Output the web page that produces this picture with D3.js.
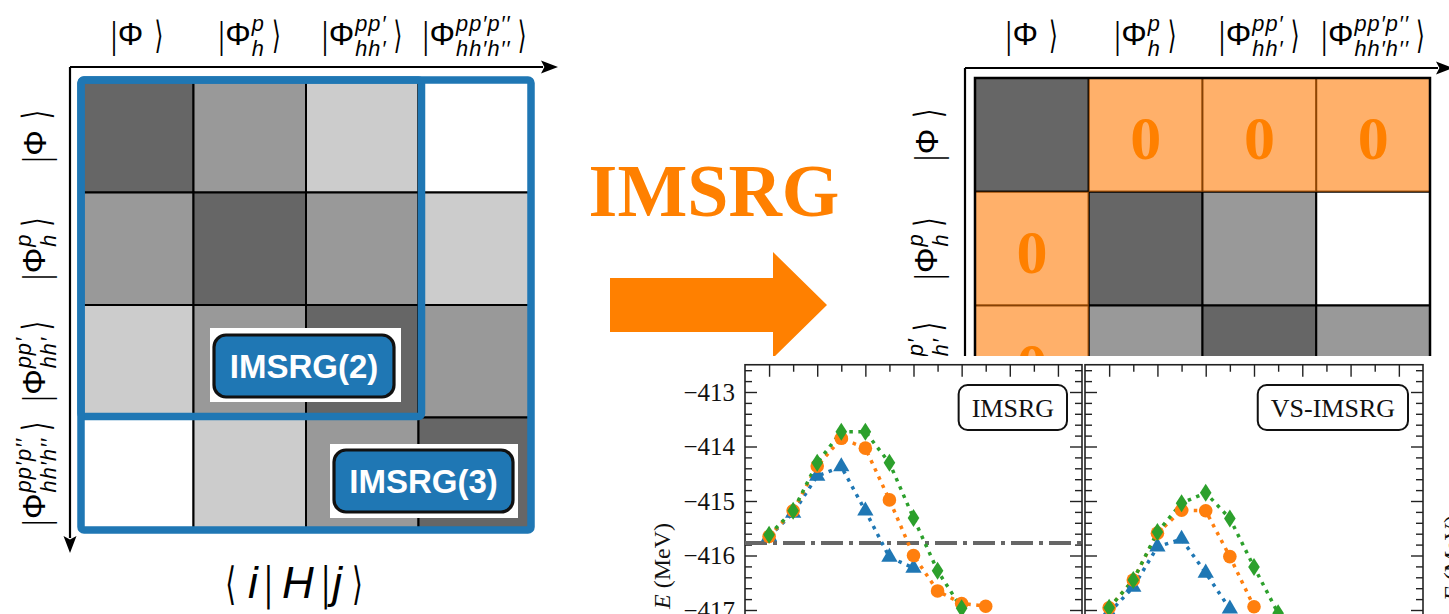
<!DOCTYPE html>
<html>
<head>
<meta charset="utf-8">
<script src="https://cdn.jsdelivr.net/npm/d3@7"></script>
<style>
  body { margin: 0; background: #fff; }
  svg { display: block; }
</style>
</head>
<body>
<svg id="fig" width="1449" height="614"></svg>
<script>
// ---------------- data ----------------
// Many-body basis blocks: |Φ>, 1p1h, 2p2h, 3p3h
const blockSup = ["", "p", "pp′", "pp′p′′"];
const blockSub = ["", "h", "hh′", "hh′h′′"];

// Shade index of each Hamiltonian block (0 = strongest coupling)
const shadeBefore = [
  [0, 1, 2, 3],
  [1, 0, 1, 2],
  [2, 1, 0, 1],
  [3, 2, 1, 0]
];
// After the IMSRG flow: -1 marks a decoupled (zero) block
const shadeAfter = [
  [0, -1, -1, -1],
  [-1, 0, 1, 3],
  [-1, 1, 0, 1],
  [-1, 3, 1, 0]
];
const shadeColors = ["#666666", "#999999", "#cccccc", "#ffffff"];

// Ground-state energies (MeV) vs. oscillator frequency
const hw = [8, 10, 12, 14, 16, 18, 20, 22, 24, 26];
const imsrgTri     = [-415.65, -415.22, -414.54, -414.37, -415.18, -416.03, -416.23];
const imsrgCircle  = [-415.65, -415.18, -414.36, -413.85, -414.03, -414.98, -416.00, -416.65, -416.88, -416.93];
const imsrgDiamond = [-415.62, -415.18, -414.30, -413.73, -413.73, -414.30, -415.31, -416.28, -416.97];
const vsTri        = [-417.05, -416.58, -415.84, -415.70, -416.32, -416.98];
const vsCircle     = [-416.96, -416.45, -415.59, -415.17, -415.18, -416.02, -416.94];
const vsDiamond    = [-416.96, -416.45, -415.57, -415.04, -414.85, -415.32, -416.21, -417.06];
const refEnergy = -415.77;
const energyTicks = [-413, -414, -415, -416, -417];
const hwMajorTicks = [8, 12, 16, 20, 24, 28, 32];
const hwMinorTicks = [10, 14, 18, 22, 26, 30];

// ---------------- setup ----------------
const svg = d3.select("#fig");
const SANS = "'Liberation Sans', Arial, Helvetica, sans-serif";
const SERIF = "'Liberation Serif', 'Times New Roman', serif";
const BLUE = "#1f77b4", ORANGE = "#ff7f0e", GREEN = "#2ca02c";
const ARROW_ORANGE = "#ff8000";

svg.append("rect").attr("width", 1449).attr("height", 614).attr("fill", "#fff");

function axisArrow(g, x1, y1, x2, y2) {
  const len = 17, hw2 = 6.5;
  const a = Math.atan2(y2 - y1, x2 - x1);
  const bx = x2 - len * Math.cos(a), by = y2 - len * Math.sin(a);
  g.append("line").attr("x1", x1).attr("y1", y1).attr("x2", bx + 2 * Math.cos(a)).attr("y2", by + 2 * Math.sin(a))
    .attr("stroke", "#000").attr("stroke-width", 2.2);
  const px = -Math.sin(a) * hw2, py = Math.cos(a) * hw2;
  g.append("path")
    .attr("d", `M${x2},${y2}L${bx + px},${by + py}L${bx + len * 0.2 * Math.cos(a)},${by + len * 0.2 * Math.sin(a)}L${bx - px},${by - py}Z`)
    .attr("fill", "#000");
}

// Ket label |Φ^{sup}_{sub}> built with baseline at y = 0, starting at x = 0
function ket(parent, sup, sub, fs) {
  const g = parent.append("g");
  const delimFs = fs * 0.78;
  const bar = g.append("text")
    .attr("font-family", SANS).attr("font-size", delimFs)
    .attr("transform", `translate(0,${fs * 0.1}) scale(0.85,1.5)`)
    .text("|");
  const bw = bar.node().getComputedTextLength() * 0.85;
  const phi = g.append("text")
    .attr("x", bw + 1).attr("font-family", SANS).attr("font-size", fs)
    .text("Φ");
  let x = bw + 1 + phi.node().getComputedTextLength();
  let sw = 3;
  const sfs = fs * 0.68;
  if (sup) {
    const t = g.append("text").attr("x", x + 1).attr("y", -fs * 0.45)
      .attr("font-family", SANS).attr("font-style", "italic").attr("font-size", sfs)
      .attr("letter-spacing", 1).text(sup);
    sw = Math.max(sw, t.node().getComputedTextLength());
  }
  if (sub) {
    const t = g.append("text").attr("x", x + 1).attr("y", fs * 0.33)
      .attr("font-family", SANS).attr("font-style", "italic").attr("font-size", sfs)
      .attr("letter-spacing", 1).text(sub);
    sw = Math.max(sw, t.node().getComputedTextLength());
  }
  x += sw + 8;
  g.append("text")
    .attr("font-family", "'DejaVu Sans', sans-serif").attr("font-size", delimFs)
    .attr("transform", `translate(${x},${fs * 0.1}) scale(0.9,1.5)`)
    .text("⟩");
  return g;
}

function columnKet(parent, i, cx, baseY, fs) {
  const g = ket(parent, blockSup[i], blockSub[i], fs);
  const b = g.node().getBBox();
  g.attr("transform", `translate(${cx - b.x - b.width / 2},${baseY})`);
}

function rowKet(parent, i, cx, cy, fs) {
  const outer = parent.append("g").attr("transform", `translate(${cx},${cy}) rotate(-90)`);
  const g = ket(outer, blockSup[i], blockSub[i], fs);
  const b = g.node().getBBox();
  g.attr("transform", `translate(${-b.x - b.width / 2},${-b.y - b.height / 2})`);
}

const idx = d3.range(4);
const cellPairs = d3.cross(idx, idx); // [row, col]

// ---------------- left matrix: full Hamiltonian ----------------
const left = svg.append("g");
const lx = d3.scaleBand().domain(idx).range([81, 531]);
const ly = d3.scaleBand().domain(idx).range([80, 530]);

left.selectAll("rect.cell").data(cellPairs).join("rect")
  .attr("class", "cell")
  .attr("x", d => lx(d[1])).attr("y", d => ly(d[0]))
  .attr("width", lx.bandwidth()).attr("height", ly.bandwidth())
  .attr("fill", d => shadeColors[shadeBefore[d[0]][d[1]]])
  .attr("stroke", "#000").attr("stroke-width", 2);

// truncation frames
left.append("rect")
  .attr("x", lx(0)).attr("y", ly(0))
  .attr("width", lx(3) - lx(0) + 3).attr("height", ly(3) - ly(0) - 1)
  .attr("rx", 3).attr("fill", "none").attr("stroke", BLUE).attr("stroke-width", 7.5);
left.append("rect")
  .attr("x", lx(0)).attr("y", ly(0))
  .attr("width", lx.range()[1] - lx(0)).attr("height", ly.range()[1] - ly(0))
  .attr("rx", 3).attr("fill", "none").attr("stroke", BLUE).attr("stroke-width", 7.5);

function truncationBadge(g, wx, wy, ww, wh, bx, by, bwid, bh, label) {
  g.append("rect").attr("x", wx).attr("y", wy).attr("width", ww).attr("height", wh).attr("fill", "#fff");
  g.append("rect").attr("x", bx).attr("y", by).attr("width", bwid).attr("height", bh)
    .attr("rx", 12).attr("fill", BLUE).attr("stroke", "#111").attr("stroke-width", 3.2);
  g.append("text").attr("x", bx + bwid / 2).attr("y", by + bh / 2 + 12)
    .attr("text-anchor", "middle").attr("font-family", SANS).attr("font-weight", "bold")
    .attr("font-size", 33).attr("fill", "#fff").text(label);
}
truncationBadge(left, 210, 328, 191, 74, 214, 335, 180, 62, "IMSRG(2)");
truncationBadge(left, 330, 444, 188, 74, 334, 450, 179, 62, "IMSRG(3)");

axisArrow(left, 70, 67, 558, 67);
axisArrow(left, 70, 67, 70, 553);

idx.forEach(i => {
  columnKet(left, i, lx(i) + lx.bandwidth() / 2, 45, 32);
  rowKet(left, i, 36, ly(i) + ly.bandwidth() / 2, 32);
});

// <i|H|j> caption
(function () {
  const g = svg.append("g");
  const fs = 44;
  let x = 0;
  const pieces = [
    { t: "⟨", delim: true },
    { t: "i", gap: 12 },
    { t: "|", delim: true, gap: 6 },
    { t: "H", gap: 9 },
    { t: "|", delim: true, gap: 7 },
    { t: "j", gap: 2 },
    { t: "⟩", delim: true, gap: 10 }
  ];
  pieces.forEach(p => {
    x += p.gap || 0;
    let node;
    if (p.delim) {
      node = g.append("text")
        .attr("font-family", "'DejaVu Sans', sans-serif").attr("font-size", fs * 0.7)
        .attr("transform", `translate(${x},1) scale(0.9,1.45)`).text(p.t);
      x += node.node().getComputedTextLength() * 0.9;
    } else {
      node = g.append("text").attr("x", x).attr("font-family", SANS)
        .attr("font-style", "italic").attr("font-size", fs).text(p.t);
      x += node.node().getComputedTextLength();
    }
  });
  const b = g.node().getBBox();
  g.attr("transform", `translate(${294 - b.x - b.width / 2},${585 - b.y - b.height / 2})`);
})();

// ---------------- IMSRG arrow ----------------
svg.append("text").attr("x", 714).attr("y", 216).attr("text-anchor", "middle")
  .attr("font-family", SERIF).attr("font-weight", "bold").attr("font-size", 74)
  .attr("fill", ARROW_ORANGE).text("IMSRG");
svg.append("path")
  .attr("d", "M610,278L773,278L773,252L827,305L773,358L773,332L610,332Z")
  .attr("fill", ARROW_ORANGE);

// ---------------- right matrix: decoupled Hamiltonian ----------------
const right = svg.append("g");
const rx = d3.scaleBand().domain(idx).range([975, 1430]);
const ry = d3.scaleBand().domain(idx).range([78, 533]);

right.selectAll("rect.cell").data(cellPairs).join("rect")
  .attr("class", "cell")
  .attr("x", d => rx(d[1])).attr("y", d => ry(d[0]))
  .attr("width", rx.bandwidth()).attr("height", ry.bandwidth())
  .attr("fill", d => {
    const s = shadeAfter[d[0]][d[1]];
    return s < 0 ? "#fff" : shadeColors[s];
  })
  .attr("stroke", "#000").attr("stroke-width", 2);

const zeroCells = cellPairs.filter(d => shadeAfter[d[0]][d[1]] < 0);
right.selectAll("rect.zero").data(zeroCells).join("rect")
  .attr("class", "zero")
  .attr("x", d => rx(d[1])).attr("y", d => ry(d[0]))
  .attr("width", rx.bandwidth()).attr("height", ry.bandwidth())
  .attr("fill", ORANGE).attr("fill-opacity", 0.62);
right.selectAll("text.zero").data(zeroCells).join("text")
  .attr("class", "zero")
  .attr("x", d => rx(d[1]) + rx.bandwidth() / 2)
  .attr("y", d => ry(d[0]) + ry.bandwidth() / 2 + 24)
  .attr("text-anchor", "middle").attr("font-family", SERIF).attr("font-weight", "bold")
  .attr("font-size", 62).attr("fill", ARROW_ORANGE).text("0");

right.append("rect").attr("x", rx(0)).attr("y", ry(0))
  .attr("width", rx.range()[1] - rx(0)).attr("height", ry.range()[1] - ry(0))
  .attr("fill", "none").attr("stroke", "#000").attr("stroke-width", 2.5);

axisArrow(right, 965, 68, 1453, 68);
axisArrow(right, 965, 68, 965, 560);

idx.forEach(i => {
  columnKet(right, i, rx(i) + rx.bandwidth() / 2, 45, 32);
  rowKet(right, i, 928, ry(i) + ry.bandwidth() / 2, 32);
});

// ---------------- energy plots ----------------
const plot = svg.append("g");
plot.append("rect").attr("x", 645).attr("y", 356).attr("width", 804).attr("height", 258).attr("fill", "#fff");

const yE = d3.scaleLinear().domain([-418.5, -412.5]).range([691.75, 364.75]);
const minorE = d3.range(-418.4, -412.5, 0.2).map(v => +v.toFixed(1)).filter(v => Math.abs(v - Math.round(v)) > 0.05);

const panels = [
  { x0: 745, x1: 1082, label: "IMSRG", tri: imsrgTri, circ: imsrgCircle, dia: imsrgDiamond, ref: true, yLabels: true },
  { x0: 1085, x1: 1423, label: "VS-IMSRG", tri: vsTri, circ: vsCircle, dia: vsDiamond, ref: false, yLabels: false }
];

const triPath = d3.symbol(d3.symbolTriangle, 115)();
const circPath = d3.symbol(d3.symbolCircle, 145)();
const diaPath = "M0,-9L5.8,0L0,9L-5.8,0Z";

panels.forEach(p => {
  const xS = d3.scaleLinear().domain([6, 34]).range([p.x0, p.x1]);
  const g = plot.append("g");
  const yTop = yE.range()[1], yBot = yE.range()[0];

  const tickStyle = sel => {
    sel.select(".domain").remove();
    sel.selectAll(".tick line").attr("stroke", "#222").attr("stroke-width", 1.4);
  };

  // y ticks (inward) on both spines
  g.append("g").attr("transform", `translate(${p.x0},0)`)
    .call(d3.axisLeft(yE).tickValues(energyTicks).tickSize(-12).tickPadding(10)
      .tickFormat(p.yLabels ? d3.format("d") : ""))
    .call(tickStyle)
    .call(s => s.selectAll("text").attr("font-family", SERIF).attr("font-size", 25).attr("fill", "#111"));
  g.append("g").attr("transform", `translate(${p.x0},0)`)
    .call(d3.axisLeft(yE).tickValues(minorE).tickSize(-7).tickFormat(""))
    .call(tickStyle);
  g.append("g").attr("transform", `translate(${p.x1},0)`)
    .call(d3.axisRight(yE).tickValues(energyTicks).tickSize(-12).tickFormat(""))
    .call(tickStyle);
  g.append("g").attr("transform", `translate(${p.x1},0)`)
    .call(d3.axisRight(yE).tickValues(minorE).tickSize(-7).tickFormat(""))
    .call(tickStyle);
  // x ticks (inward) on top and bottom spines
  g.append("g").attr("transform", `translate(0,${yTop})`)
    .call(d3.axisTop(xS).tickValues(hwMajorTicks).tickSize(-12).tickFormat(""))
    .call(tickStyle);
  g.append("g").attr("transform", `translate(0,${yTop})`)
    .call(d3.axisTop(xS).tickValues(hwMinorTicks).tickSize(-7).tickFormat(""))
    .call(tickStyle);
  g.append("g").attr("transform", `translate(0,${yBot})`)
    .call(d3.axisBottom(xS).tickValues(hwMajorTicks).tickSize(-12).tickFormat(""))
    .call(tickStyle);

  g.append("rect").attr("x", p.x0).attr("y", yTop).attr("width", p.x1 - p.x0).attr("height", yBot - yTop)
    .attr("fill", "none").attr("stroke", "#222").attr("stroke-width", 1.6);

  if (p.ref) {
    g.append("line").attr("x1", p.x0).attr("x2", p.x1).attr("y1", yE(refEnergy)).attr("y2", yE(refEnergy))
      .attr("stroke", "#666").attr("stroke-width", 4).attr("stroke-dasharray", "22,6,4,6");
  }

  const series = [
    { vals: p.tri, color: BLUE, shape: triPath },
    { vals: p.circ, color: ORANGE, shape: circPath },
    { vals: p.dia, color: GREEN, shape: diaPath }
  ];
  const line = d3.line().x((d, i) => xS(hw[i])).y(d => yE(d));
  series.forEach(s => {
    g.append("path").attr("d", line(s.vals)).attr("fill", "none")
      .attr("stroke", s.color).attr("stroke-width", 3.5).attr("stroke-dasharray", "3.5,5.5");
  });
  series.forEach(s => {
    g.selectAll(null).data(s.vals).join("path")
      .attr("d", s.shape)
      .attr("transform", (d, i) => `translate(${xS(hw[i])},${yE(d)})`)
      .attr("fill", s.color);
  });

  // method tag
  const tag = g.append("g");
  const tt = tag.append("text").attr("font-family", SERIF).attr("font-size", 26).attr("fill", "#111").text(p.label);
  const tw = tt.node().getComputedTextLength();
  const boxR = p.x1 - 15, boxW = tw + 26;
  tt.attr("x", boxR - boxW / 2).attr("y", 417).attr("text-anchor", "middle");
  tag.insert("rect", "text").attr("x", boxR - boxW).attr("y", 385).attr("width", boxW).attr("height", 45)
    .attr("rx", 9).attr("fill", "#fff").attr("stroke", "#111").attr("stroke-width", 2);
});

// axis titles
function energyTitle(x, y) {
  const t = plot.append("text").attr("transform", `translate(${x},${y}) rotate(-90)`)
    .attr("text-anchor", "middle").attr("font-family", SERIF).attr("font-size", 24).attr("fill", "#111");
  t.append("tspan").attr("font-style", "italic").text("E");
  t.append("tspan").text(" (MeV)");
}
energyTitle(670, 566);
energyTitle(1460, 558);
</script>
</body>
</html>
